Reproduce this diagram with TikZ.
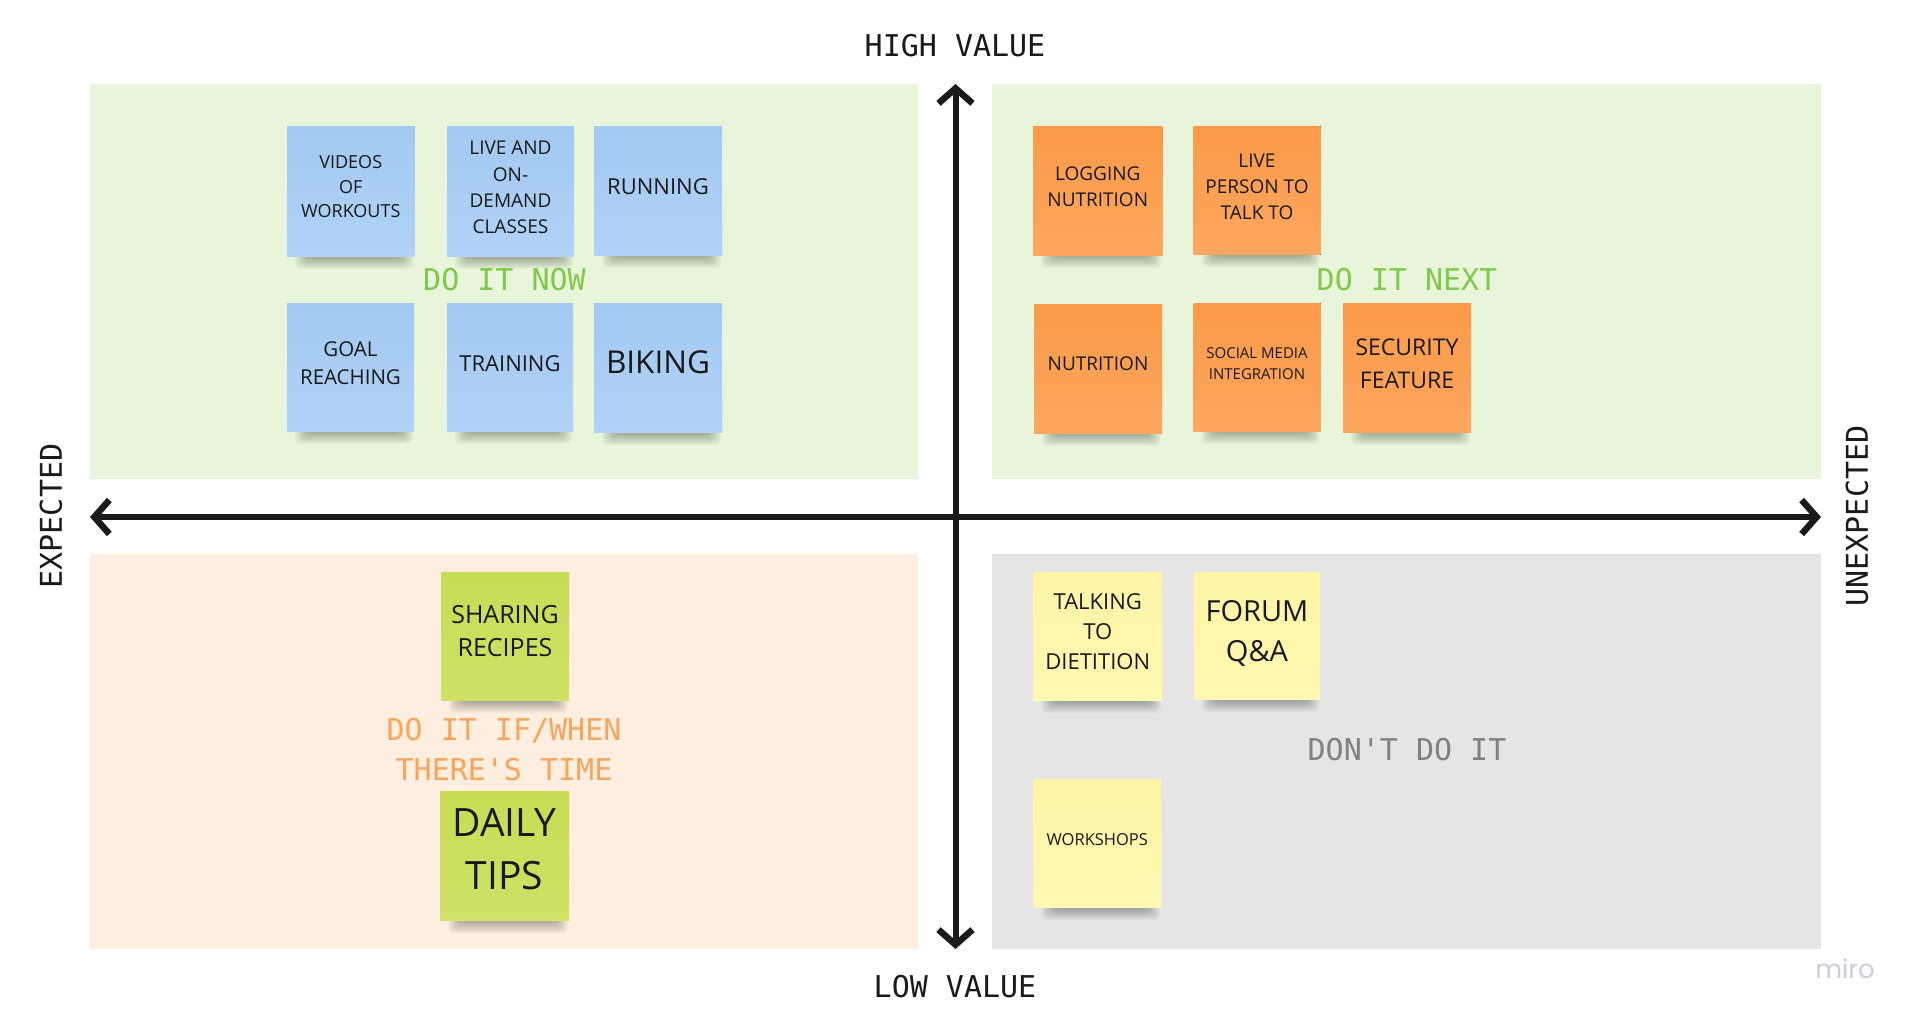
\documentclass[tikz,border=0pt]{standalone}
\usepackage{fontspec}
\setmainfont{Open Sans}
\newfontfamily\monof{DejaVu Sans Mono}
\newfontfamily\mirof{Poppins}
\usetikzlibrary{arrows.meta}
\definecolor{qgreen}{HTML}{E8F5DA}
\definecolor{qpeach}{HTML}{FDEEE0}
\definecolor{qgrey}{HTML}{E5E5E5}
\definecolor{axis}{HTML}{1A1A1A}
\definecolor{lblgreen}{HTML}{80C94B}
\definecolor{lblorange}{HTML}{F8A55C}
\definecolor{lblgrey}{HTML}{808080}
\definecolor{mirogrey}{HTML}{CCCCDA}
\definecolor{blueA}{HTML}{A3C9F2}\definecolor{blueB}{HTML}{B0D2F6}
\definecolor{orA}{HTML}{FB9A48}\definecolor{orB}{HTML}{FCA75F}
\definecolor{limeA}{HTML}{C8DC55}\definecolor{limeB}{HTML}{CFE167}
\definecolor{yelA}{HTML}{FDF4A6}\definecolor{yelB}{HTML}{FEF8B2}
\tikzset{
  x=1pt,y=-1pt,
  axislbl/.style={font=\monof\fontsize{30}{36}\selectfont,text=axis,inner sep=0pt},
  zonelbl/.style={font=\monof\fontsize{30}{40}\selectfont,inner sep=0pt,align=center},
  axisline/.style={draw=axis,line width=6pt,{Straight Barb[length=15pt,width=34pt,line width=6.5pt]}-{Straight Barb[length=15pt,width=34pt,line width=6.5pt]}}
}
\newcommand{\stickynote}[9]{%
  \foreach \k in {0,1,...,11}{
    \fill[black,opacity=0.028,rounded corners=5pt]
      ({#2+8+\k*1.2},{#5-3}) rectangle ({#4-1-\k*1.2},{#5+13-\k*1.05});
  }
  \fill[top color=#6A,bottom color=#6B] (#2,#3) rectangle (#4,#5);
  \node[inner sep=0pt,align=center,text=black!90,#8] (#1) at ({(#2+#4)/2},{(#3+#5)/2+#7}) {#9};
}
\tikzset{fs/.style 2 args={font=\fontsize{#1}{#2}\selectfont}}
\begin{document}
\begin{tikzpicture}
\useasboundingbox (0,0) rectangle (1920,1022);
\fill[white] (0,0) rectangle (1920,1022);
% quadrants
\fill[qgreen] (89.5,84) rectangle (918,479);
\fill[qgreen] (992,84) rectangle (1821,479);
\fill[qpeach] (89.5,554) rectangle (918,949);
\fill[qgrey] (992,554) rectangle (1821,949);
% axes
\coordinate (top) at (955.5,84);
\coordinate (bot) at (955.5,949);
\coordinate (lft) at (90,517);
\coordinate (rgt) at (1821,517);
\draw[axisline] (top) -- (bot);
\draw[axisline] (lft) -- (rgt);
% blue
\stickynote{a1}{287}{127}{414.5}{256}{blue}{-4.5}{fs={18}{24.5}}{VIDEOS\\OF\\WORKOUTS}
\stickynote{a2}{447}{127}{574}{256}{blue}{-4}{fs={19}{26.2}}{LIVE AND\\ON-\\DEMAND\\CLASSES}
\stickynote{a3}{594}{127}{722}{255}{blue}{-4}{fs={22}{28}}{RUNNING}
\stickynote{a4}{287}{303}{414}{431}{blue}{-3.5}{fs={20.5}{28}}{GOAL\\REACHING}
\stickynote{a5}{447}{303}{573}{431}{blue}{-3}{fs={22}{28}}{TRAINING}
\stickynote{a6}{594}{303}{722}{432}{blue}{-5}{fs={31.5}{38}}{BIKING}
% orange
\stickynote{b1}{1033}{127}{1162.5}{255}{or}{-4}{fs={19}{26}}{LOGGING\\NUTRITION}
\stickynote{b2}{1193.5}{126.5}{1320.5}{254.5}{or}{-3.5}{fs={19}{26.2}}{LIVE\\PERSON TO\\TALK TO}
\stickynote{b3}{1034}{304}{1162}{433}{or}{-5}{fs={19}{26}}{NUTRITION}
\stickynote{b4}{1193.5}{303}{1320.5}{431}{or}{-3}{fs={15}{21}}{SOCIAL MEDIA\\INTEGRATION}
\stickynote{b5}{1343}{303}{1471}{432}{or}{-4}{fs={23}{33}}{SECURITY\\FEATURE}
% lime
\stickynote{c1}{441}{572}{569}{700}{lime}{-5}{fs={25}{33}}{SHARING\\RECIPES}
\stickynote{c2}{440}{791}{569}{920}{lime}{-6}{fs={39}{53}}{DAILY\\TIPS}
% yellow
\stickynote{d1}{1033.5}{572}{1162}{700}{yel}{-4.5}{fs={22}{30}}{TALKING\\TO\\DIETITION}
\stickynote{d2}{1194}{572}{1320}{699}{yel}{-2}{fs={29}{40}}{FORUM\\Q\&A}
\stickynote{d3}{1033.5}{779}{1161}{907}{yel}{-3}{fs={16.5}{22}}{WORKSHOPS}
% zone labels
\node[zonelbl,text=lblgreen] (z1) at (504.5,280) {DO IT NOW};
\node[zonelbl,text=lblgreen] (z2) at (1407,280) {DO IT NEXT};
\node[zonelbl,text=lblorange] (z3) at (504,750) {DO IT IF/WHEN\\THERE'S TIME};
\node[zonelbl,text=lblgrey] (z4) at (1407,750) {DON'T DO IT};
% axis labels
\node[axislbl] (h) at (955,46) {HIGH VALUE};
\node[axislbl] (l) at (955,987) {LOW VALUE};
\node[axislbl,rotate=90] (e) at (51,516) {EXPECTED};
\node[axislbl,rotate=90] (u) at (1857,516) {UNEXPECTED};
\node[inner sep=0pt,text=mirogrey,font=\mirof\fontsize{26}{30}\selectfont] (m) at (1845,969) {miro};
\end{tikzpicture}
\end{document}
